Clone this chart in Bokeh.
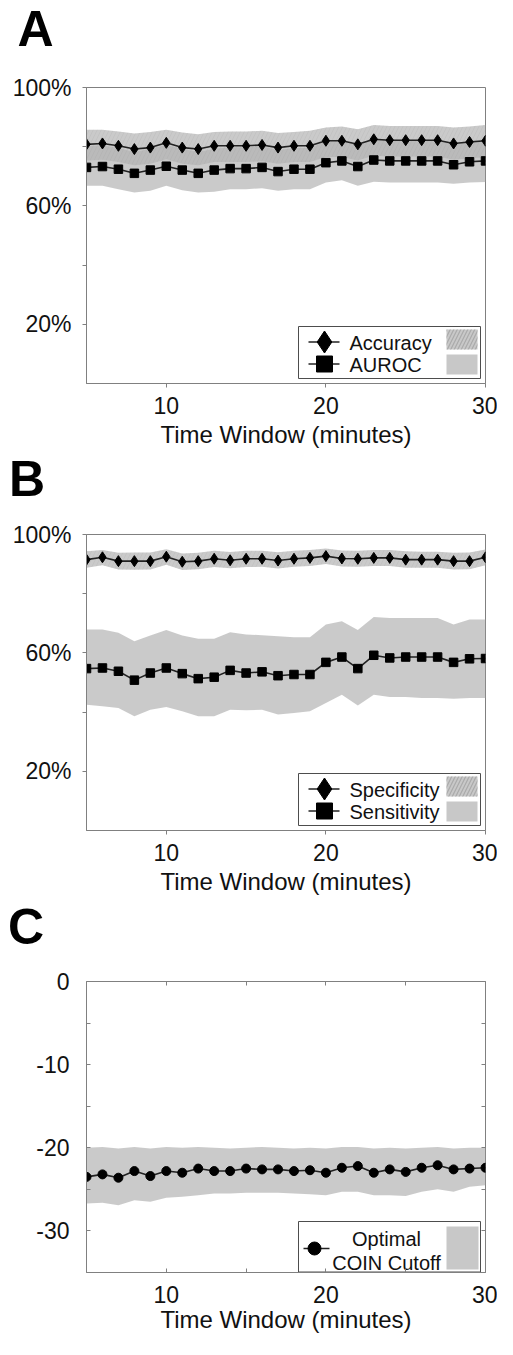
from bokeh.plotting import figure
from bokeh.layouts import column
from bokeh.models import Range1d, FixedTicker, LinearAxis
from bokeh.core.properties import value
from bokeh.embed import file_html
from bokeh.resources import INLINE

# ---------------- data ----------------
time_window = [5, 6, 7, 8, 9, 10, 11, 12, 13, 14, 15, 16, 17, 18, 19, 20, 21, 22, 23, 24, 25, 26, 27, 28, 29, 30]

accuracy = [80.8, 81.1, 80.3, 79.2, 79.7, 81.3, 79.7, 79.2, 80.3, 80.3, 80.3, 80.6, 79.7, 80.3, 80.3,
            82.0, 82.0, 80.8, 82.5, 82.2, 82.2, 82.2, 82.2, 81.1, 81.6, 82.0]
accuracy_upper = [85.7, 85.7, 85.1, 84.5, 85.0, 85.7, 84.8, 84.2, 85.0, 85.1, 85.1, 85.4, 84.6, 85.0, 85.4,
                  86.5, 86.8, 85.9, 87.3, 87.0, 87.0, 87.0, 87.0, 86.5, 86.8, 87.3]
accuracy_lower = [75.3, 75.6, 74.8, 73.7, 74.2, 75.8, 74.2, 73.7, 74.8, 74.8, 74.8, 75.1, 74.2, 74.8, 74.8,
                  76.5, 76.5, 75.3, 77.0, 76.7, 76.7, 76.7, 76.7, 75.6, 76.1, 76.5]

auroc = [73.0, 73.3, 72.4, 71.0, 72.1, 73.4, 72.1, 71.0, 72.1, 72.6, 72.6, 73.0, 71.6, 72.4, 72.4,
         74.6, 75.2, 73.3, 75.5, 75.2, 75.2, 75.2, 75.2, 73.9, 74.9, 75.2]
auroc_upper = [80.2, 80.5, 79.6, 78.2, 79.3, 80.6, 79.3, 78.2, 79.3, 79.8, 79.8, 80.2, 78.8, 79.6, 79.6,
               81.8, 82.4, 80.5, 82.7, 82.4, 82.4, 82.4, 82.4, 81.1, 82.1, 82.4]
auroc_lower = [66.8, 66.8, 65.6, 64.5, 65.1, 66.8, 65.3, 64.5, 64.8, 65.6, 65.6, 66.0, 65.1, 65.6, 65.6,
               67.9, 68.7, 66.8, 68.2, 67.9, 67.9, 67.9, 67.9, 67.5, 67.9, 68.1]

specificity = [91.5, 92.3, 91.0, 91.0, 91.0, 92.5, 90.8, 91.0, 91.8, 91.3, 91.8, 91.8, 91.2, 91.8, 92.1,
               92.7, 91.9, 91.8, 92.1, 92.1, 91.5, 91.5, 91.5, 91.0, 91.0, 92.3]
specificity_upper = [94.3, 94.8, 93.8, 93.9, 93.9, 95.0, 93.6, 93.8, 94.5, 94.1, 94.5, 94.5, 94.0, 94.5, 94.8,
                     95.3, 94.6, 94.5, 94.8, 94.8, 94.3, 94.2, 94.2, 93.8, 93.9, 94.9]
specificity_lower = [88.8, 89.6, 88.2, 88.1, 88.2, 89.8, 88.0, 88.3, 89.0, 88.6, 89.0, 89.1, 88.5, 89.1, 89.4,
                     90.0, 89.2, 89.1, 89.4, 89.4, 88.8, 88.8, 88.8, 88.2, 88.3, 89.6]

sensitivity = [54.7, 54.9, 53.8, 50.8, 53.2, 54.9, 53.0, 51.3, 51.8, 54.1, 53.2, 53.6, 52.3, 52.7, 52.7,
               56.8, 58.6, 54.7, 59.2, 58.3, 58.6, 58.6, 58.6, 56.8, 58.0, 58.1]
sensitivity_upper = [67.9, 67.9, 66.8, 63.9, 65.9, 67.7, 65.9, 64.8, 64.8, 67.0, 66.2, 66.0, 65.6, 65.3, 65.3,
                     69.6, 70.7, 67.7, 72.1, 71.8, 71.8, 71.8, 71.8, 69.6, 71.3, 71.3]
sensitivity_lower = [42.5, 42.0, 41.4, 38.6, 40.8, 41.7, 40.3, 38.6, 38.6, 40.8, 40.6, 40.8, 39.2, 39.7, 40.3,
                     43.1, 45.9, 42.2, 45.9, 45.1, 45.1, 44.8, 44.8, 44.5, 44.8, 44.8]

coin_cutoff = [-23.5, -23.2, -23.6, -22.8, -23.4, -22.8, -23.0, -22.5, -22.8, -22.8, -22.5, -22.6, -22.6,
               -22.8, -22.7, -23.0, -22.4, -22.2, -23.0, -22.6, -22.9, -22.4, -22.1, -22.6, -22.5, -22.4]
coin_upper = [-20.0, -19.9, -20.1, -19.9, -20.1, -19.9, -20.0, -19.9, -20.0, -20.1, -20.0, -19.9, -20.0,
              -20.1, -20.0, -20.1, -19.9, -19.9, -20.1, -20.0, -20.1, -20.0, -19.9, -20.1, -20.0, -20.0]
coin_lower = [-26.7, -26.6, -26.9, -26.3, -26.5, -26.0, -25.9, -25.7, -25.5, -25.5, -25.4, -25.4, -25.4,
              -25.5, -25.6, -25.7, -25.3, -25.3, -25.7, -25.7, -25.8, -25.3, -25.0, -25.3, -24.7, -24.5]

x_ticks_ab = [10, 20, 30]
x_tick_labels_ab = ["10", "20", "30"]
y_ticks_ab = [20, 40, 60, 80, 100]
y_tick_labels_ab = ["20%", "", "60%", "", "100%"]
x_ticks_c = [10, 15, 20, 25, 30]
x_tick_labels_c = ["10", "", "20", "", "30"]
y_ticks_c = [0, -5, -10, -15, -20, -25, -30]
y_tick_labels_c = ["0", "", "-10", "", "-20", "", "-30"]

legend_a = ["Accuracy", "AUROC"]
legend_b = ["Specificity", "Sensitivity"]
legend_c = ["Optimal", "COIN Cutoff"]
panel_letters = ["A", "B", "C"]
x_title = "Time Window (minutes)"

# ---------------- style ----------------
FONT = "Liberation Sans"
AXC = "#808080"
TXT = "#111111"
LINEC = "#222222"
BAND = "#b4b4b4"
BAND_ALPHA = 0.7
SWATCH = "#c8c8c8"
FIG_W = 497
BL = 86
BR = 12
FW = FIG_W - BL - BR
LETTER_H = 62


def letter_fig(letter, offset, standoff):
    f = figure(width=FIG_W, height=LETTER_H, x_range=Range1d(0, 1), y_range=Range1d(0, 1),
               x_axis_location=None, y_axis_location=None,
               output_backend="svg", toolbar_location=None,
               min_border_left=BL, min_border_right=BR, min_border_top=0, min_border_bottom=0)
    f.xgrid.visible = False
    f.ygrid.visible = False
    f.outline_line_color = None
    f.title.text = letter
    f.title.text_font = FONT
    f.title.text_font_size = "50px"
    f.title.text_font_style = "bold"
    f.title.text_color = "black"
    f.title.align = "left"
    f.title.offset = offset
    f.title.standoff = standoff
    f.title.vertical_align = "top"
    return f


def make_panel(fig_h, b_top, b_bot, y_lo, y_hi, xt, xtl, yt, ytl, inward, lab_y, lab_x, title_gap):
    fh = fig_h - b_top - b_bot
    p = figure(width=FIG_W, height=fig_h, x_range=Range1d(5, 30), y_range=Range1d(y_lo, y_hi),
               output_backend="svg", toolbar_location=None,
               min_border_left=BL, min_border_right=BR, min_border_top=b_top, min_border_bottom=b_bot)
    p.xgrid.visible = False
    p.ygrid.visible = False
    p.outline_line_color = AXC
    p.outline_line_width = 1
    p.background_fill_color = "white"
    p.border_fill_color = "white"
    p.extra_x_ranges = {"px": Range1d(0, FW)}
    p.extra_y_ranges = {"py": Range1d(0, fh)}
    for ax, ticks, labs in ((p.xaxis[0], xt, xtl), (p.yaxis[0], yt, ytl)):
        ax.ticker = FixedTicker(ticks=ticks)
        ax.major_label_overrides = {t: l for t, l in zip(ticks, labs)}
        ax.minor_tick_line_color = None
        ax.axis_line_color = AXC
        ax.major_tick_line_color = AXC
        ax.major_tick_in = 4 if inward else 0
        ax.major_tick_out = 0 if inward else 4
        ax.major_label_text_font = FONT
        ax.major_label_text_font_size = "23px"
        ax.major_label_text_color = TXT
    p.yaxis[0].major_label_standoff = lab_y
    p.xaxis[0].major_label_standoff = lab_x
    p.xaxis[0].axis_label = x_title
    p.xaxis[0].axis_label_text_font = FONT
    p.xaxis[0].axis_label_text_font_size = "24px"
    p.xaxis[0].axis_label_text_font_style = "normal"
    p.xaxis[0].axis_label_text_color = TXT
    p.xaxis[0].axis_label_standoff = title_gap
    return p, fh


def legend_two(p, labels, markers, sizes):
    kw = dict(x_range_name="px", y_range_name="py")
    W = FW
    p.quad(left=[W - 187], right=[W - 5], bottom=[5], top=[57], fill_color="white",
           line_color="#4d4d4d", line_width=1, **kw)
    row_y = [41.5, 19.5]
    p.segment(x0=[W - 177, W - 177], x1=[W - 146, W - 146], y0=row_y, y1=row_y,
              line_color=LINEC, line_width=1.6, **kw)
    for m, s, y in zip(markers, sizes, row_y):
        p.scatter(x=[W - 161], y=[y], marker=m, size=s, color="black", **kw)
    p.text(x=[W - 136, W - 136], y=[41, 19], text=labels, text_font=value(FONT),
           text_font_size=value("20px"), text_color=TXT, text_baseline="middle",
           text_align="left", **kw)
    p.quad(left=[W - 39], right=[W - 8], bottom=[34], top=[54], fill_color=SWATCH, line_color=None,
           hatch_pattern="/", hatch_color="#a2a2a2", hatch_alpha=0.8, hatch_scale=7, hatch_weight=1.2, **kw)
    p.quad(left=[W - 39], right=[W - 8], bottom=[9], top=[29], fill_color=SWATCH, line_color=None, **kw)


# ---------------- panel A ----------------
la = letter_fig(panel_letters[0], -69, 0)
pa, fha = make_panel(388, 25, 67, 0, 100, x_ticks_ab, x_tick_labels_ab, y_ticks_ab, y_tick_labels_ab,
                     False, 11, 9, 4)
pa.varea(x=time_window, y1=auroc_lower, y2=auroc_upper, fill_color=BAND, fill_alpha=BAND_ALPHA)
pa.varea(x=time_window, y1=accuracy_lower, y2=accuracy_upper, fill_color=BAND, fill_alpha=BAND_ALPHA,
         hatch_pattern="/", hatch_color="#9a9a9a", hatch_alpha=0.15, hatch_scale=8, hatch_weight=1)
pa.line(time_window, accuracy, line_color=LINEC, line_width=1.6)
pa.scatter(time_window, accuracy, marker="diamond", size=11, color="black")
pa.line(time_window, auroc, line_color=LINEC, line_width=1.6)
pa.scatter(time_window, auroc, marker="square", size=8.5, color="black")
legend_two(pa, legend_a, ["diamond", "square"], [22, 16])

# ---------------- panel B ----------------
lb = letter_fig(panel_letters[1], -77.6, 0)
pb, fhb = make_panel(385, 22, 67, 0, 100, x_ticks_ab, x_tick_labels_ab, y_ticks_ab, y_tick_labels_ab,
                     False, 11, 9, 4)
pb.varea(x=time_window, y1=sensitivity_lower, y2=sensitivity_upper, fill_color=BAND, fill_alpha=BAND_ALPHA)
pb.varea(x=time_window, y1=specificity_lower, y2=specificity_upper, fill_color=BAND, fill_alpha=BAND_ALPHA,
         hatch_pattern="/", hatch_color="#9a9a9a", hatch_alpha=0.15, hatch_scale=8, hatch_weight=1)
pb.line(time_window, specificity, line_color=LINEC, line_width=1.6)
pb.scatter(time_window, specificity, marker="diamond", size=11, color="black")
pb.line(time_window, sensitivity, line_color=LINEC, line_width=1.6)
pb.scatter(time_window, sensitivity, marker="square", size=8.5, color="black")
legend_two(pb, legend_b, ["diamond", "square"], [22, 16])

# ---------------- panel C ----------------
lc = letter_fig(panel_letters[2], -78.4, 2)
pc, fhc = make_panel(380, 22, 67, -35, 0, x_ticks_c, x_tick_labels_c, y_ticks_c, y_tick_labels_c,
                     True, 17, 13, 0)
for loc, ticks in (("right", y_ticks_c), ("above", x_ticks_c)):
    extra = LinearAxis(ticker=FixedTicker(ticks=ticks), major_label_overrides={t: "" for t in ticks},
                       major_label_text_font_size="1px", major_label_standoff=0,
                       axis_line_color=None, major_tick_in=4, major_tick_out=0,
                       major_tick_line_color=AXC, minor_tick_line_color=None)
    pc.add_layout(extra, loc)
pc.varea(x=time_window, y1=coin_lower, y2=coin_upper, fill_color=BAND, fill_alpha=BAND_ALPHA)
pc.line(time_window, coin_cutoff, line_color=LINEC, line_width=1.6)
pc.scatter(time_window, coin_cutoff, marker="circle", size=9, color="black")

kwc = dict(x_range_name="px", y_range_name="py")
pc.quad(left=[FW - 187], right=[FW - 5], bottom=[0.5], top=[51], fill_color="white",
        line_color="#4d4d4d", line_width=1, **kwc)
pc.segment(x0=[FW - 182], x1=[FW - 156], y0=[24], y1=[24], line_color=LINEC, line_width=1.6, **kwc)
pc.scatter(x=[FW - 171], y=[24], marker="circle", size=13, color="black", **kwc)
pc.text(x=[FW - 99, FW - 99], y=[34, 10], text=legend_c, text_font=value(FONT),
        text_font_size=value("20px"), text_color=TXT, text_baseline="middle",
        text_align="center", **kwc)
pc.quad(left=[FW - 39], right=[FW - 7], bottom=[3], top=[46], fill_color=SWATCH, line_color=None, **kwc)

layout = column(la, pa, lb, pb, lc, pc)
open("out.html", "w").write(file_html(layout, INLINE))
